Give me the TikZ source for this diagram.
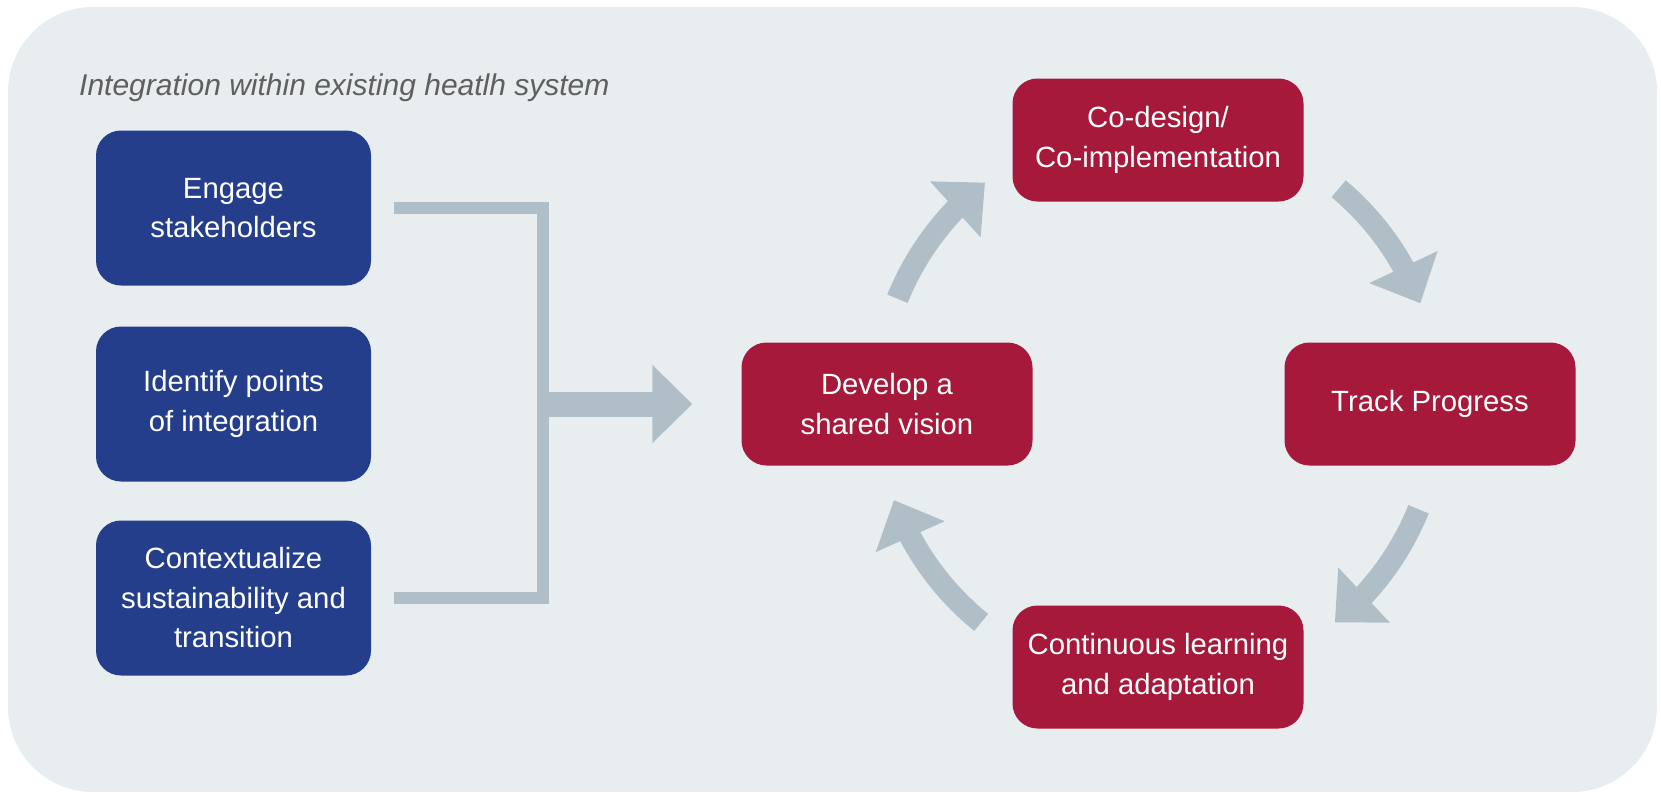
\documentclass[tikz,border=0pt]{standalone}
\usepackage{fontspec}
\setmainfont{Liberation Sans}
\usetikzlibrary{arrows.meta,bending}
\definecolor{bgc}{RGB}{232,237,240}
\definecolor{arrgray}{RGB}{176,190,200}
\definecolor{boxblue}{RGB}{36,62,140}
\definecolor{boxred}{RGB}{166,25,58}
\definecolor{titlegray}{RGB}{95,95,95}
\begin{document}
\begin{tikzpicture}[x=1pt,y=-1pt,
  boxbase/.style={rounded corners=25pt, text=white, align=center, inner sep=0pt,
    font=\fontsize{29.3}{39.5}\selectfont},
  bluebox/.style={boxbase, fill=boxblue, minimum width=275pt, minimum height=155pt},
  redbox/.style={boxbase, fill=boxred, minimum width=291pt, minimum height=123pt},
  titletext/.style={text=titlegray, inner sep=0pt, font=\fontsize{30}{36}\selectfont\itshape},
  link/.style={draw=arrgray, line width=12pt},
  flow/.style={draw=arrgray, line width=25pt, -{Triangle[length=40pt,width=76pt]}},
  cyc/.style={draw=arrgray, line width=22pt, -{Triangle[length=40pt,width=73pt]}}]
\useasboundingbox (0,0) rectangle (1661,798);
\fill[bgc, rounded corners=85pt] (8,7) rectangle (1657,792);
\node[titletext, anchor=base west] (title) at (79,95) {Integration within existing heatlh system};
% left column
\node[bluebox] (b1) at (233.5,208) {Engage\\stakeholders};
\node[bluebox] (b2) at (233.5,404) {Identify points\\of integration};
\node[bluebox] (b3) at (233.5,598) {Contextualize\\sustainability and\\transition};
% cycle
\node[redbox] (dev) at (887,404) {Develop a\\shared vision};
\node[redbox] (cod) at (1158,140) {Co-design/\\Co-implementation};
\node[redbox] (trk) at (1430,404) {Track Progress};
\node[redbox] (cont) at (1158,667) {Continuous learning\\and adaptation};
\coordinate (c) at (cod |- dev);
% bracket and arrow
\coordinate (j) at (543,404);
\draw[link] ([xshift=23pt]b1.east) -| (j) |- ([xshift=23pt]b3.east);
\draw[flow] (j) -- ([xshift=-49pt]dev.west);
% cycle arrows
\draw[cyc] ([shift={(-158:281)}]c) arc[start angle=-158, end angle=-128, radius=281];
\draw[cyc] ([shift={(-50:281)}]c) arc[start angle=-50, end angle=-21, radius=281];
\draw[cyc] ([shift={(22:281)}]c) arc[start angle=22, end angle=51, radius=281];
\draw[cyc] ([shift={(-231:281)}]c) arc[start angle=-231, end angle=-200, radius=281];
\end{tikzpicture}
\end{document}
